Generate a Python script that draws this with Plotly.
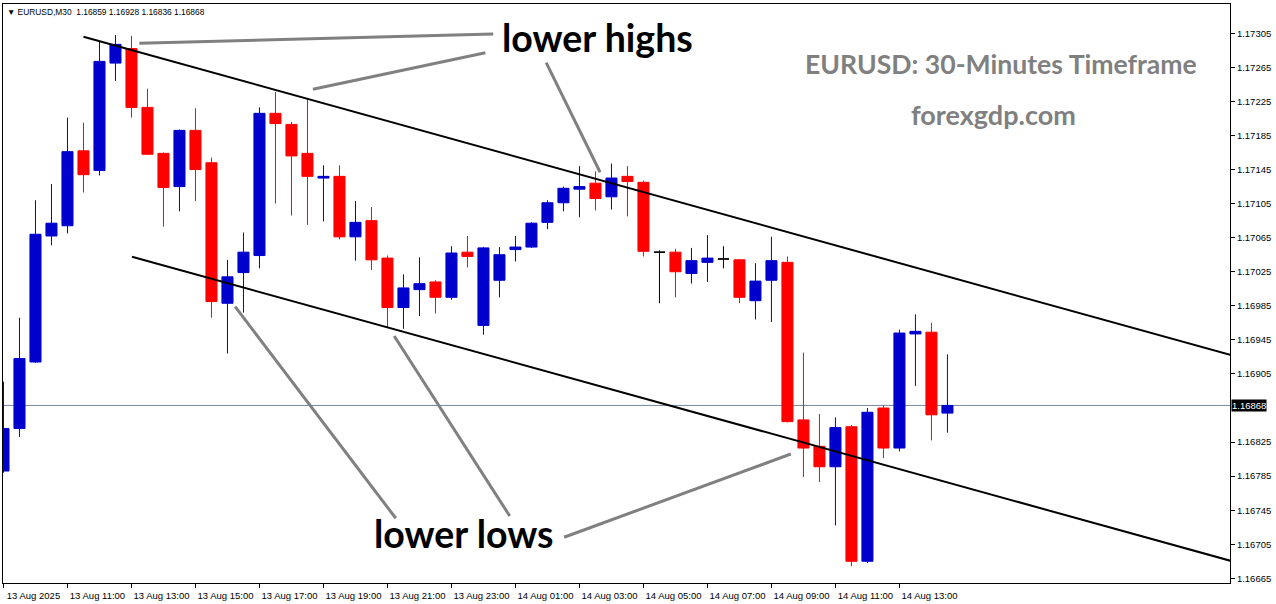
import plotly.graph_objects as go

# ---------------- data (EURUSD M30, 13 Aug 09:00 -> 14 Aug 14:30) ----------------
opens = [1.16791, 1.16841, 1.16919, 1.17067, 1.17079, 1.17167, 1.17144, 1.17270, 1.17287, 1.17218,
         1.17164, 1.17125, 1.17191, 1.17153, 1.16988, 1.17024, 1.17044, 1.17211, 1.17198, 1.17164,
         1.17135, 1.17137, 1.17066, 1.17085, 1.17041, 1.16983, 1.17004, 1.17013, 1.16995, 1.17048,
         1.16962, 1.17015, 1.17051, 1.17054, 1.17083, 1.17106, 1.17122, 1.17129, 1.17113, 1.17137,
         1.17130, 1.17048, 1.17048, 1.17023, 1.17036, 1.17040, 1.17039, 1.16991, 1.17015, 1.17036,
         1.16851, 1.16820, 1.16796, 1.16843, 1.16685, 1.16865, 1.16818, 1.16952, 1.16954, 1.16859]
highs = [1.16896, 1.16971, 1.17109, 1.17128, 1.17206, 1.17200, 1.17296, 1.17303, 1.17302, 1.17240,
         1.17165, 1.17192, 1.17217, 1.17159, 1.17039, 1.17071, 1.17218, 1.17236, 1.17201, 1.17228,
         1.17150, 1.17150, 1.17108, 1.17101, 1.17044, 1.17022, 1.17042, 1.17015, 1.17055, 1.17067,
         1.17054, 1.17054, 1.17067, 1.17083, 1.17109, 1.17125, 1.17149, 1.17143, 1.17152, 1.17149,
         1.17132, 1.17050, 1.17052, 1.17053, 1.17068, 1.17055, 1.17040, 1.17035, 1.17066, 1.17043,
         1.16930, 1.16858, 1.16854, 1.16845, 1.16865, 1.16868, 1.16957, 1.16975, 1.16965, 1.16928]
lows = [1.16789, 1.16831, 1.16918, 1.17056, 1.17070, 1.17118, 1.17138, 1.17249, 1.17206, 1.17162,
        1.17078, 1.17096, 1.17108, 1.16971, 1.16929, 1.16977, 1.17029, 1.17105, 1.17091, 1.17080,
        1.17084, 1.17063, 1.17038, 1.17027, 1.16960, 1.16958, 1.16973, 1.16976, 1.16992, 1.17030,
        1.16951, 1.16995, 1.17037, 1.17053, 1.17075, 1.17096, 1.17089, 1.17097, 1.17098, 1.17090,
        1.17043, 1.16988, 1.16995, 1.17011, 1.17013, 1.17029, 1.16988, 1.16969, 1.16966, 1.16848,
        1.16784, 1.16778, 1.16727, 1.16679, 1.16683, 1.16806, 1.16814, 1.16891, 1.16827, 1.16836]
closes = [1.16841, 1.16923, 1.17069, 1.17082, 1.17166, 1.17139, 1.17272, 1.17292, 1.17218, 1.17163,
          1.17124, 1.17191, 1.17145, 1.16990, 1.17019, 1.17048, 1.17211, 1.17199, 1.17161, 1.17137,
          1.17137, 1.17066, 1.17083, 1.17039, 1.16983, 1.17006, 1.17011, 1.16995, 1.17047, 1.17043,
          1.17053, 1.17045, 1.17054, 1.17082, 1.17106, 1.17123, 1.17125, 1.17111, 1.17135, 1.17131,
          1.17049, 1.17048, 1.17025, 1.17038, 1.17041, 1.17040, 1.16995, 1.17014, 1.17038, 1.16849,
          1.16818, 1.16796, 1.16842, 1.16685, 1.16860, 1.16818, 1.16953, 1.16955, 1.16857, 1.16868]

time_tick_labels = ["13 Aug 2025", "13 Aug 11:00", "13 Aug 13:00", "13 Aug 15:00", "13 Aug 17:00",
                    "13 Aug 19:00", "13 Aug 21:00", "13 Aug 23:00", "14 Aug 01:00", "14 Aug 03:00",
                    "14 Aug 05:00", "14 Aug 07:00", "14 Aug 09:00", "14 Aug 11:00", "14 Aug 13:00"]
bars_per_tick = 4
# 1.16865 is hidden behind the bid-price label, as in the terminal
price_ticks = [1.17305, 1.17265, 1.17225, 1.17185, 1.17145, 1.17105, 1.17065, 1.17025, 1.16985,
               1.16945, 1.16905, 1.16825, 1.16785, 1.16745, 1.16705, 1.16665]
bid_price = 1.16868

# channel lines (bar index, price)
upper_channel = [(5.0, 1.17301), (76.67, 1.169274)]
lower_channel = [(8.03, 1.170427), (76.67, 1.166857)]
# pointer lines for annotations (bar index, price)
pointer_lines = [
    [(8.49, 1.172933), (30.61, 1.173042)],
    [(19.34, 1.172392), (30.12, 1.172822)],
    [(33.92, 1.172705), (37.29, 1.171418)],
    [(14.48, 1.169840), (24.52, 1.167355)],
    [(24.42, 1.169496), (31.64, 1.167382)],
    [(35.04, 1.167132), (49.21, 1.168110)],
]

# ---------------- styling / layout helpers ----------------
W, H = 1276, 604
PL, PR, PT, PB = 3, 1230, 4, 583
BLUE, RED = "#0000CC", "#FF0000"
SMALL_FONT = "Liberation Sans"
BIG_FONT = "Lato"


def px_x(px):
    return (px - PL) / (PR - PL)


def px_y(py):
    return (PB - py) / (PB - PT)


idx = list(range(len(opens)))
normal = [i for i in idx if opens[i] != closes[i]]
doji = [i for i in idx if opens[i] == closes[i]]

fig = go.Figure()
fig.add_trace(go.Candlestick(
    x=[i for i in normal],
    open=[opens[i] for i in normal], high=[highs[i] for i in normal],
    low=[lows[i] for i in normal], close=[closes[i] for i in normal],
    increasing=dict(line=dict(color=BLUE, width=1), fillcolor=BLUE),
    decreasing=dict(line=dict(color=RED, width=1), fillcolor=RED),
    whiskerwidth=0, showlegend=False, hoverinfo="skip"))
fig.add_trace(go.Candlestick(
    x=[i for i in doji],
    open=[opens[i] for i in doji], high=[highs[i] for i in doji],
    low=[lows[i] for i in doji], close=[closes[i] for i in doji],
    increasing=dict(line=dict(color="black", width=1), fillcolor="black"),
    decreasing=dict(line=dict(color="black", width=1), fillcolor="black"),
    whiskerwidth=0, showlegend=False, hoverinfo="skip"))

shapes = []
# bid line
shapes.append(dict(type="line", xref="paper", yref="y", x0=0, x1=1, y0=bid_price, y1=bid_price,
                   line=dict(color="#778899", width=1), layer="below"))
for (a, b) in (upper_channel, lower_channel):
    shapes.append(dict(type="line", xref="x", yref="y", x0=a[0], y0=a[1], x1=b[0], y1=b[1],
                       line=dict(color="black", width=2), layer="above"))
for (a, b) in pointer_lines:
    shapes.append(dict(type="line", xref="x", yref="y", x0=a[0], y0=a[1], x1=b[0], y1=b[1],
                       line=dict(color="#808080", width=3), layer="above"))

annotations = [
    dict(text="\u25bc EURUSD,M30  %.5f %.5f %.5f %.5f" % (opens[-1], highs[-1], lows[-1], closes[-1]),
         xref="paper", yref="paper", x=px_x(5), y=px_y(12), xanchor="left", yanchor="middle",
         showarrow=False, font=dict(family=SMALL_FONT, size=8.4, color="black")),
    dict(text="<b>lower highs</b>", xref="paper", yref="paper", x=px_x(597), y=px_y(38),
         xanchor="center", yanchor="middle", showarrow=False,
         font=dict(family=BIG_FONT, size=37.5, color="black")),
    dict(text="<b>lower lows</b>", xref="paper", yref="paper", x=px_x(464), y=px_y(533),
         xanchor="center", yanchor="middle", showarrow=False,
         font=dict(family=BIG_FONT, size=37.5, color="black")),
    dict(text="<b>EURUSD: 30-Minutes Timeframe</b>", xref="paper", yref="paper", x=px_x(1001.5),
         y=px_y(63.5), xanchor="center", yanchor="middle", showarrow=False,
         font=dict(family=BIG_FONT, size=26.6, color="#808080")),
    dict(text="<b>forexgdp.com</b>", xref="paper", yref="paper", x=px_x(993.5), y=px_y(114.5),
         xanchor="center", yanchor="middle", showarrow=False,
         font=dict(family=BIG_FONT, size=27, color="#808080")),
    dict(text="%.5f" % bid_price, xref="paper", yref="y", x=px_x(1231), y=bid_price,
         xanchor="left", yanchor="middle", showarrow=False, bgcolor="black", borderpad=0,
         font=dict(family=SMALL_FONT, size=9.5, color="white")),
]

tick_pos = [i * bars_per_tick for i in range(len(time_tick_labels))]

fig.update_layout(
    width=W, height=H,
    margin=dict(l=PL, r=W - PR, t=PT, b=H - PB, pad=0, autoexpand=False),
    paper_bgcolor="white", plot_bgcolor="white",
    showlegend=False, boxgap=0.31, boxgroupgap=0,
    shapes=shapes, annotations=annotations,
    xaxis=dict(range=[-0.03, 76.66], showgrid=False, zeroline=False,
               showline=True, linecolor="black", linewidth=1, mirror=True,
               ticks="outside", ticklen=4, tickcolor="black", tickwidth=1,
               tickvals=tick_pos, ticktext=time_tick_labels, ticklabelshift=30,
               tickfont=dict(family=SMALL_FONT, size=9.5, color="black"),
               rangeslider=dict(visible=False), fixedrange=True, automargin=False),
    yaxis=dict(range=[1.166595, 1.173394], side="right", showgrid=False, zeroline=False,
               showline=True, linecolor="black", linewidth=1, mirror=True,
               ticks="outside", ticklen=4, tickcolor="black", tickwidth=1,
               tickvals=price_ticks, ticktext=["%.5f" % v for v in price_ticks],
               tickfont=dict(family=SMALL_FONT, size=9.5, color="black"), fixedrange=True,
               automargin=False),
)

fig.write_html("out.html", config={"displayModeBar": False},
               post_script="document.body.style.margin='0';document.body.style.overflow='hidden';")
